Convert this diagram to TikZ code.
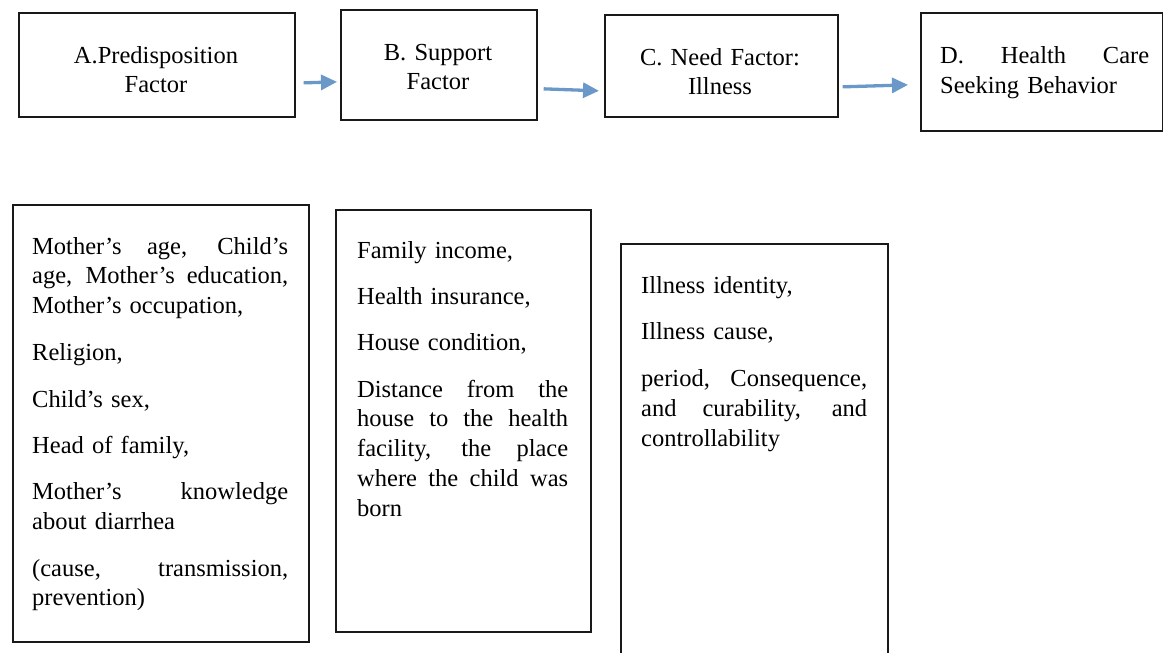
\documentclass[tikz,border=0pt]{standalone}
\usepackage{fontspec}
\setmainfont{Liberation Serif}
\usetikzlibrary{arrows.meta}
\definecolor{arrblue}{HTML}{6A98C8}
\setlength{\parindent}{0pt}
\newcommand{\jline}[2]{\makebox[#1][s]{\spaceskip=0pt\xspaceskip=0pt #2}}
\begin{document}
\begin{tikzpicture}[x=1pt,y=-1pt,
  box/.style={draw=black!90, line width=1.7pt, anchor=north west, inner sep=0pt},
  txt/.style={inner sep=0pt, font=\fontsize{24.5}{29.8}\selectfont, anchor=base west, align=left},
  ttl/.style={inner sep=0pt, font=\fontsize{24.5}{29}\selectfont, anchor=base, align=center, text width=260pt},
  arr/.style={draw=arrblue, line width=3.3pt, -{Triangle[length=16pt,width=15pt]}}]
\useasboundingbox (0,0) rectangle (1163,653);
\clip (0,0) rectangle (1163,653);
% top boxes
\node[box, minimum width=276pt, minimum height=104pt] (A) at (18,12) {};
\node[box, minimum width=196pt, minimum height=110pt] (B) at (340,9) {};
\node[box, minimum width=233pt, minimum height=102pt] (C) at (604,14) {};
\node[box, minimum width=242pt, minimum height=118pt] (D) at (920,12) {};
\node[ttl] (tA) at (156,63) {A.Predisposition\\Factor};
\node[ttl] (tB) at (438,60) {B. Support\\Factor};
\node[ttl] (tC) at (720,65) {C. Need Factor:\\Illness};
\node[txt, text width=215pt, font=\fontsize{24.5}{30}\selectfont] (tD) at (940,63) {\jline{209pt}{D. Health Care}\\Seeking Behavior};
% arrows
\draw[arr] ([xshift=8pt,yshift=-18pt]A.east) -- ([xshift=-3pt,yshift=-17pt]B.west);
\draw[arr] ([xshift=6pt,yshift=-24pt]B.east) -- ([xshift=-5pt,yshift=-25pt]C.west);
\draw[arr] ([xshift=4pt,yshift=-21pt]C.east) -- ([xshift=-12pt,yshift=-13pt]D.west);
% bottom boxes
\node[box, minimum width=296pt, minimum height=437pt] (P) at (12,204) {};
\node[box, minimum width=255pt, minimum height=422pt] (S) at (335,209) {};
\node[box, minimum width=267pt, minimum height=440pt] (N) at (620,243) {};
\node[txt, text width=256pt] (pP) at (32,254) {%
\jline{256pt}{Mother’s age, Child’s}\\
\jline{256pt}{age, Mother’s education,}\\
Mother’s occupation,\\[17.3pt]
Religion,\\[17.3pt]
Child’s sex,\\[15.5pt]
Head of family,\\[16.3pt]
\jline{256pt}{Mother’s knowledge}\\
about diarrhea\\[17.3pt]
\jline{256pt}{(cause, transmission,}\\
prevention)};
\node[txt, text width=211pt] (pS) at (357,258) {%
Family income,\\[17pt]
Health insurance,\\[16.3pt]
House condition,\\[16.3pt]
\jline{211pt}{Distance from the}\\
\jline{211pt}{house to the health}\\
\jline{211pt}{facility, the place}\\
\jline{211pt}{where the child was}\\
born};
\node[txt, text width=227pt] (pN) at (641,293) {%
Illness identity,\\[17pt]
Illness cause,\\[17pt]
\jline{226pt}{period, Consequence,}\\
\jline{226pt}{and curability, and}\\
controllability};
\end{tikzpicture}
\end{document}
